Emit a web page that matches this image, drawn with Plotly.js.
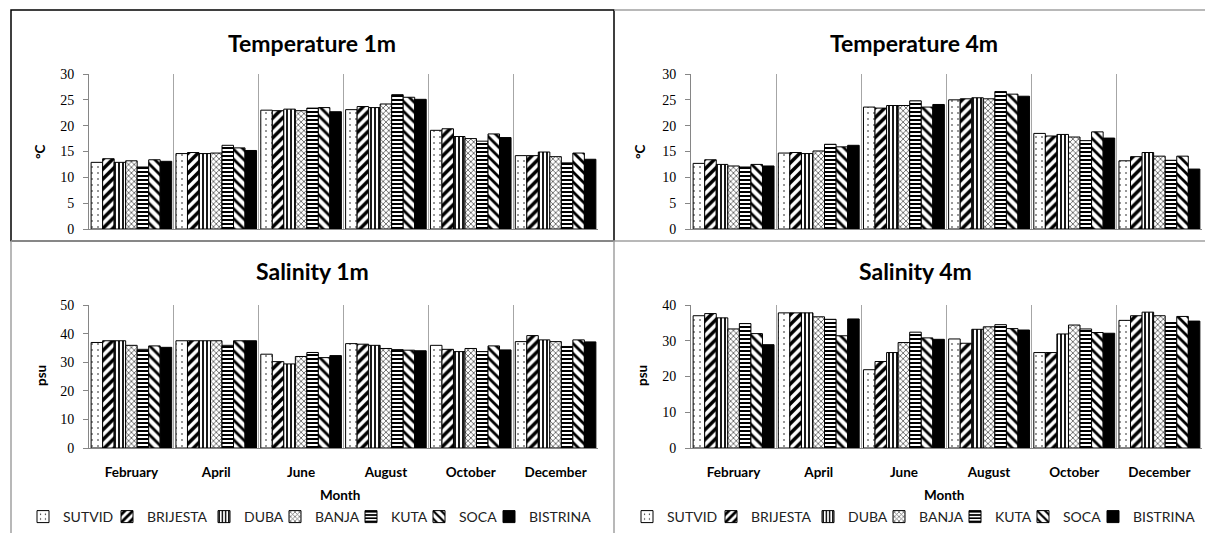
<!DOCTYPE html>
<html>
<head>
<meta charset="utf-8">
<script src="https://cdn.plot.ly/plotly-3.0.1.min.js"></script>
<style>html,body{margin:0;padding:0;background:#fff;}#chart{width:1205px;height:533px;}</style>
</head>
<body>
<div id="chart"></div>
<script>
// ---- data ----
const months = ["February", "April", "June", "August", "October", "December"];
const stations = ["SUTVID", "BRIJESTA", "DUBA", "BANJA", "KUTA", "SOCA", "BISTRINA"];
// rows = months, columns = stations
const temp1m = [
  [12.9, 13.6, 12.9, 13.2, 12.0, 13.4, 13.1],
  [14.6, 14.8, 14.6, 14.7, 16.2, 15.7, 15.2],
  [23.0, 22.9, 23.2, 22.9, 23.4, 23.5, 22.7],
  [23.1, 23.7, 23.5, 24.2, 26.0, 25.5, 25.1],
  [19.1, 19.4, 17.9, 17.5, 17.0, 18.4, 17.7],
  [14.2, 14.2, 14.9, 14.0, 12.8, 14.7, 13.5]
];
const temp4m = [
  [12.7, 13.4, 12.5, 12.2, 12.0, 12.5, 12.2],
  [14.7, 14.8, 14.6, 15.1, 16.4, 15.9, 16.2],
  [23.6, 23.4, 23.9, 23.9, 24.8, 23.6, 24.1],
  [25.0, 25.2, 25.4, 25.2, 26.6, 26.1, 25.7],
  [18.5, 18.0, 18.3, 17.8, 17.1, 18.8, 17.6],
  [13.2, 14.0, 14.8, 14.1, 13.3, 14.1, 11.6]
];
const sal1m = [
  [36.9, 37.5, 37.5, 35.9, 34.5, 35.7, 35.2],
  [37.5, 37.5, 37.5, 37.5, 35.9, 37.5, 37.5],
  [32.8, 30.2, 29.4, 32.0, 33.4, 31.6, 32.3],
  [36.5, 36.3, 35.9, 34.8, 34.4, 34.2, 34.0],
  [35.9, 34.5, 33.7, 34.8, 33.7, 35.7, 34.3],
  [37.2, 39.3, 37.8, 37.2, 35.5, 37.8, 37.1]
];
const sal4m = [
  [37.0, 37.6, 36.4, 33.3, 34.8, 32.0, 28.9],
  [37.8, 37.8, 37.8, 36.7, 36.0, 31.4, 36.1],
  [21.9, 24.2, 26.7, 29.5, 32.4, 30.8, 30.4],
  [30.5, 29.3, 33.2, 33.9, 34.5, 33.4, 33.0],
  [26.7, 26.7, 31.9, 34.4, 33.3, 32.3, 32.1],
  [35.7, 37.0, 38.0, 37.0, 35.1, 36.8, 35.5]
];
const titles = ["Temperature 1m", "Temperature 4m", "Salinity 1m", "Salinity 4m"];
const yTitles = ["°C", "°C", "psu", "psu"];
const xTitle = "Month";

// ---- styles ----
const W = 1205, H = 533;
const px = v => v / W;
const py = v => 1 - v / H;
const markerStyles = [
  {color: '#fff', pattern: {shape: '.', fgcolor: '#000', bgcolor: '#fff', size: 6, solidity: 0.05}},
  {color: '#fff', pattern: {shape: '/', fgcolor: '#000', bgcolor: '#fff', size: 7, solidity: 0.5}},
  {color: '#fff', pattern: {shape: '|', fgcolor: '#000', bgcolor: '#fff', size: 4, solidity: 0.45}},
  {color: '#fff', pattern: {shape: 'x', fgcolor: '#666', bgcolor: '#fff', size: 4, solidity: 0.4}},
  {color: '#fff', pattern: {shape: '-', fgcolor: '#000', bgcolor: '#fff', size: 4, solidity: 0.5}},
  {color: '#fff', pattern: {shape: '\\', fgcolor: '#000', bgcolor: '#fff', size: 7, solidity: 0.4}},
  {color: '#000'}
];
// legend entry widths (px): text width + spacing
const legendItemPx = [84, 97, 71, 76, 68, 70, 104];

const panels = [
  {data: temp1m, xa: 'x', ya: 'y', legend: null},
  {data: temp4m, xa: 'x2', ya: 'y2', legend: null},
  {data: sal1m, xa: 'x3', ya: 'y3', legend: 'legend'},
  {data: sal4m, xa: 'x4', ya: 'y4', legend: 'legend2'}
];

const traces = [];
panels.forEach(p => {
  stations.forEach((st, s) => {
    const ms = markerStyles[s];
    const t = {
      type: 'bar',
      name: st,
      x: months,
      y: months.map((m, i) => p.data[i][s]),
      xaxis: p.xa, yaxis: p.ya,
      marker: Object.assign({}, ms, {line: {color: '#000', width: 1}}),
      showlegend: !!p.legend,
      hoverinfo: 'x+y+name'
    };
    if (p.legend) {
      t.legend = p.legend;
      t.legendwidth = legendItemPx[s] / W;
    }
    traces.push(t);
  });
});

const leftX = [px(89), px(598)];
const rightX = [px(691), px(1202)];
const topY = [py(229), py(74)];
const botY = [py(448), py(305)];

function xAxis(domain, anchor, showLabels) {
  return {
    domain: domain, anchor: anchor, type: 'category',
    tickson: 'boundaries', showgrid: true, gridcolor: '#a6a6a6', gridwidth: 1,
    showline: true, linecolor: '#868686', linewidth: 1,
    ticks: '', showticklabels: showLabels,
    tickfont: {family: 'Lato', size: 13.5, color: '#000', weight: 'bold'},
    ticklabelstandoff: 12, fixedrange: true
  };
}
function yAxis(domain, anchor, range, dtick) {
  return {
    domain: domain, anchor: anchor, range: range, dtick: dtick,
    showgrid: false, zeroline: false, showline: true, linecolor: '#868686', linewidth: 1,
    ticks: 'outside', ticklen: 5, tickcolor: '#868686',
    tickfont: {family: 'Liberation Serif', size: 14, color: '#000'},
    ticklabelstandoff: 6, fixedrange: true
  };
}

const annotations = [];
const titlePos = [[312, 43], [914, 43], [312, 271], [915, 271]];
titles.forEach((t, i) => annotations.push({
  text: t, xref: 'paper', yref: 'paper', x: px(titlePos[i][0]), y: py(titlePos[i][1]),
  xanchor: 'center', yanchor: 'middle', showarrow: false,
  font: {family: 'Lato', size: 23, color: '#000', weight: 'bold'}
}));
const yTitlePos = [[40, 152], [640, 152], [41, 376], [642, 376]];
yTitles.forEach((t, i) => annotations.push({
  text: t, xref: 'paper', yref: 'paper', x: px(yTitlePos[i][0]), y: py(yTitlePos[i][1]),
  xanchor: 'center', yanchor: 'middle', showarrow: false, textangle: -90,
  font: {family: 'Lato', size: 13.5, color: '#000', weight: 'bold'}
}));
[[340, 495], [944, 495]].forEach(p => annotations.push({
  text: xTitle, xref: 'paper', yref: 'paper', x: px(p[0]), y: py(p[1]),
  xanchor: 'center', yanchor: 'middle', showarrow: false,
  font: {family: 'Lato', size: 13.5, color: '#000', weight: 'bold'}
}));

const gray = '#a0a0a0';
const shapes = [
  {type: 'rect', xref: 'paper', yref: 'paper', x0: px(11), x1: px(614), y0: py(241), y1: py(10), line: {color: '#000', width: 1.5}},
  {type: 'line', xref: 'paper', yref: 'paper', x0: px(614), x1: px(1205), y0: py(10), y1: py(10), line: {color: gray, width: 1.5}},
  {type: 'line', xref: 'paper', yref: 'paper', x0: px(11), x1: px(1205), y0: py(241), y1: py(241), line: {color: gray, width: 1.5}},
  {type: 'line', xref: 'paper', yref: 'paper', x0: px(11), x1: px(11), y0: py(241), y1: py(533), line: {color: gray, width: 1.5}},
  {type: 'line', xref: 'paper', yref: 'paper', x0: px(614), x1: px(614), y0: py(241), y1: py(533), line: {color: gray, width: 1.5}}
];

const legendBase = {
  orientation: 'h', xanchor: 'left', yanchor: 'middle', y: py(517),
  entrywidthmode: 'fraction', itemwidth: 30, bgcolor: 'rgba(0,0,0,0)',
  font: {family: 'Lato', size: 14, color: '#222'}, traceorder: 'normal',
  itemclick: false, itemdoubleclick: false
};

const layout = {
  width: W, height: H,
  margin: {l: 0, r: 0, t: 0, b: 0},
  paper_bgcolor: '#fff', plot_bgcolor: '#fff',
  font: {family: 'Lato', color: '#000'},
  barmode: 'group', bargap: 0.05, bargroupgap: 0,
  xaxis: xAxis(leftX, 'y', false),
  yaxis: yAxis(topY, 'x', [0, 30], 5),
  xaxis2: xAxis(rightX, 'y2', false),
  yaxis2: yAxis(topY, 'x2', [0, 30], 5),
  xaxis3: xAxis(leftX, 'y3', true),
  yaxis3: yAxis(botY, 'x3', [0, 50], 10),
  xaxis4: xAxis(rightX, 'y4', true),
  yaxis4: yAxis(botY, 'x4', [0, 40], 10),
  legend: Object.assign({}, legendBase, {x: px(23)}),
  legend2: Object.assign({}, legendBase, {x: px(627)}),
  annotations: annotations,
  shapes: shapes,
  showlegend: true
};

Plotly.newPlot('chart', traces, layout, {displayModeBar: false, staticPlot: true});
</script>
</body>
</html>
